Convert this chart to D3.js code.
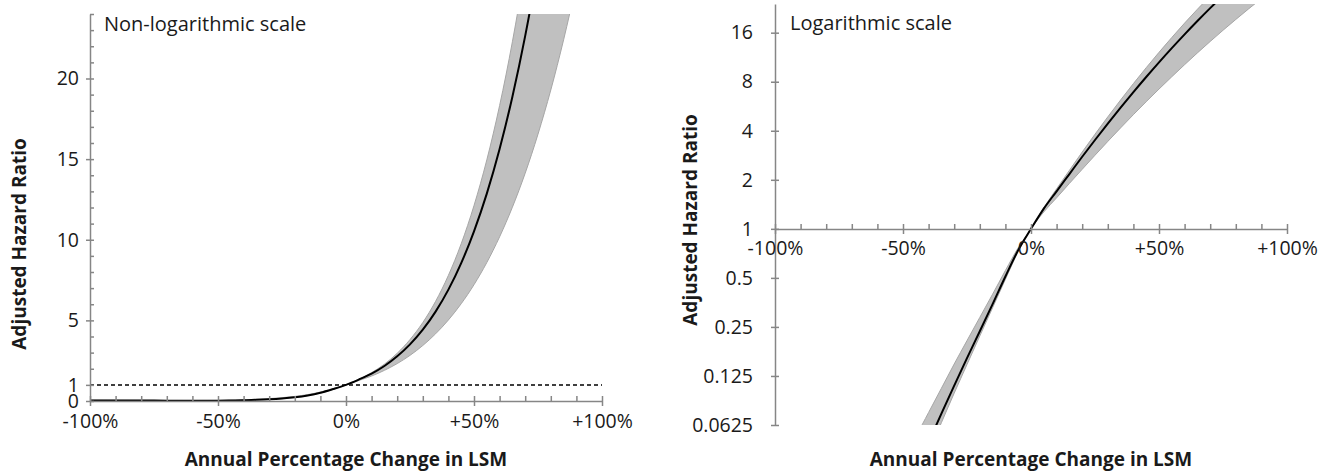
<!DOCTYPE html>
<html>
<head>
<meta charset="utf-8">
<script src="https://cdnjs.cloudflare.com/ajax/libs/d3/7.8.5/d3.min.js"></script>
<style>
  body { margin: 0; background: #fff; }
  svg { display: block; }
  .axis path, .axis line { stroke: #868686; stroke-width: 1.5; }
  .axis text { font-family: "Open Sans", sans-serif; font-size: 19.5px; fill: #1a1a1a; }
</style>
</head>
<body>
<div id="chart"></div>
<script>
// annual percentage change in LSM (%)
var pctChange = [-100, -90, -80, -70, -60, -50, -45, -40, -35, -30, -25, -20, -15, -10, -5,
                 0, 5, 10, 15, 20, 25, 30, 35, 40, 45, 50, 55, 60, 65, 70, 75, 80, 85, 90, 95, 100];
// adjusted hazard ratio, estimate
var hazard = [0.035, 0.03, 0.026, 0.022, 0.02, 0.022, 0.0324, 0.049, 0.0734, 0.109, 0.161, 0.235, 0.345, 0.51, 0.74,
              1, 1.33, 1.70, 2.17, 2.77, 3.51, 4.423, 5.544, 6.906, 8.551, 10.52, 12.86, 15.63, 18.87, 22.64, 27.0, 32.0, 37.7, 44.1, 51.3, 59.3];
// upper and lower bounds of the band
var hazardHigh = [0.055, 0.045, 0.038, 0.033, 0.03, 0.035, 0.0525, 0.0746, 0.105, 0.148, 0.206, 0.286, 0.397, 0.555, 0.765,
                  1, 1.35, 1.76, 2.285, 2.96, 3.81, 4.867, 6.18, 7.791, 9.75, 12.12, 14.95, 18.32, 22.28, 26.91, 32.27, 38.42, 45.42, 53.3, 62.1, 71.9];
var hazardLow = [0.022, 0.02, 0.017, 0.014, 0.013, 0.014, 0.0274, 0.0423, 0.0646, 0.098, 0.147, 0.22, 0.328, 0.49, 0.725,
                 1, 1.27, 1.55, 1.90, 2.32, 2.83, 3.441, 4.166, 5.024, 6.032, 7.212, 8.586, 10.18, 12.02, 14.13, 16.55, 19.29, 22.4, 25.9, 29.82, 34.2];

var xMajor = [-100, -50, 0, 50, 100];
var xMinor = d3.range(-100, 101, 10);
var linTicks = [0, 1, 5, 10, 15, 20];
var logTicks = [0.0625, 0.125, 0.25, 0.5, 1, 2, 4, 8, 16];

var fmtPct = function(d) { return (d > 0 ? "+" : "") + d + "%"; };

var data = pctChange.map(function(p, i) {
    return { x: p, hr: hazard[i], hi: hazardHigh[i], lo: hazardLow[i] };
});

var width = 1332, height = 473;
var svg = d3.select("#chart").append("svg").attr("width", width).attr("height", height);

function panel(opts) {
    var x = opts.x, y = opts.y;
    var g = svg.append("g");

    g.append("clipPath").attr("id", opts.id)
        .append("rect")
        .attr("x", x.range()[0]).attr("y", y.range()[1])
        .attr("width", x.range()[1] - x.range()[0])
        .attr("height", y.range()[0] - y.range()[1]);

    var plot = g.append("g").attr("clip-path", "url(#" + opts.id + ")");

    var area = d3.area()
        .x(function(d) { return x(d.x); })
        .y0(function(d) { return y(d.lo); })
        .y1(function(d) { return y(d.hi); })
        .curve(d3.curveMonotoneX);
    var line = d3.line()
        .x(function(d) { return x(d.x); })
        .y(function(d) { return y(d.hr); })
        .curve(d3.curveMonotoneX);

    plot.append("path").attr("d", area(data))
        .attr("fill", "#c0c0c0").attr("stroke", "#a6a6a6").attr("stroke-width", 1);

    if (opts.dashed) {
        g.append("line")
            .attr("x1", x(-100)).attr("x2", x(100))
            .attr("y1", y(1)).attr("y2", y(1))
            .attr("stroke", "#000").attr("stroke-width", 1.5)
            .attr("stroke-dasharray", "4,3");
    }

    plot.append("path").attr("d", line(data))
        .attr("fill", "none").attr("stroke", "#000").attr("stroke-width", 2);

    // y axis
    g.append("g").attr("class", "axis")
        .attr("transform", "translate(" + x(-100) + ",0)")
        .call(d3.axisLeft(y).tickValues(opts.yMinor).tickSize(-4).tickFormat(""))
        .select(".domain").remove();
    g.append("g").attr("class", "axis")
        .attr("transform", "translate(" + x(-100) + ",0)")
        .call(d3.axisLeft(y).tickValues(opts.yTicks).tickSizeInner(4).tickSizeOuter(0)
            .tickPadding(opts.yPad).tickFormat(function(d) { return String(d); }));

    // x axis
    var xy = opts.xAxisY;
    g.append("g").attr("class", "axis")
        .attr("transform", "translate(0," + xy + ")")
        .call(d3.axisBottom(x).tickValues(xMinor).tickSize(-5).tickFormat(""))
        .select(".domain").remove();
    g.append("g").attr("class", "axis")
        .attr("transform", "translate(0," + xy + ")")
        .call(d3.axisBottom(x).tickValues(xMajor).tickSizeInner(5).tickSizeOuter(0)
            .tickPadding(opts.xPad).tickFormat(fmtPct));

    g.append("text")
        .attr("x", opts.labelX).attr("y", opts.labelY)
        .attr("font-family", "Open Sans, sans-serif").attr("font-size", 20)
        .attr("fill", "#1a1a1a")
        .text(opts.label);

    g.append("text")
        .attr("x", x(0)).attr("y", 466)
        .attr("text-anchor", "middle")
        .attr("font-family", "Open Sans, sans-serif").attr("font-size", 19)
        .attr("font-weight", "bold").attr("fill", "#1a1a1a")
        .text("Annual Percentage Change in LSM");

    g.append("text")
        .attr("transform", "translate(" + opts.titleX + "," + opts.titleY + ") rotate(-90)")
        .attr("text-anchor", "middle")
        .attr("font-family", "Open Sans, sans-serif").attr("font-size", 19)
        .attr("font-weight", "bold").attr("fill", "#1a1a1a")
        .text("Adjusted Hazard Ratio");
}

panel({
    id: "clipLin",
    x: d3.scaleLinear().domain([-100, 100]).range([90, 602]),
    y: d3.scaleLinear().domain([0, 24]).range([401, 14]),
    yTicks: linTicks,
    yMinor: d3.range(0, 25, 1),
    yPad: 7,
    xPad: 8,
    xAxisY: 401,
    dashed: true,
    label: "Non-logarithmic scale",
    labelX: 104, labelY: 31,
    titleX: 26, titleY: 244
});

panel({
    id: "clipLog",
    x: d3.scaleLinear().domain([-100, 100]).range([775, 1287]),
    y: d3.scaleLog().base(2).domain([0.0625, 24]).range([425, 4]),
    yTicks: logTicks,
    yMinor: logTicks,
    yPad: 18,
    xPad: 7,
    xAxisY: 229,
    dashed: false,
    label: "Logarithmic scale",
    labelX: 790, labelY: 30,
    titleX: 697, titleY: 220
});
</script>
</body>
</html>
